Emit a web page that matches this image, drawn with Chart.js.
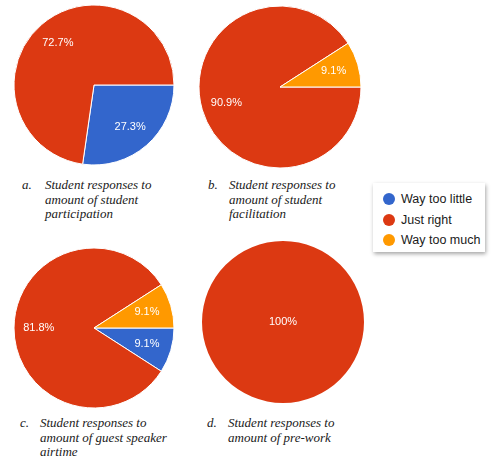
<!DOCTYPE html>
<html>
<head>
<meta charset="utf-8">
<script src="https://cdn.jsdelivr.net/npm/chart.js@4"></script>
<style>
  body { margin: 0; background: #fff; width: 491px; height: 465px; position: relative; overflow: hidden; }
  canvas { position: absolute; }
  .caption { position: absolute; font: italic 13px/14.5px "Liberation Serif", "Times New Roman", serif; color: #1a1a1a; }
  .caption .tag { position: absolute; left: 0; top: 0; }
  .legend { position: absolute; left: 373px; top: 183px; width: 112px; height: 69px; background: #fff;
            box-shadow: 1px 2px 4px rgba(0,0,0,0.35); box-sizing: border-box; padding-top: 6px;
            font: 12.5px "Liberation Sans", Arial, sans-serif; color: #1a1a1a; }
  .legend .row { height: 20.5px; display: flex; align-items: center; padding-left: 10px; }
  .legend .dot { width: 12px; height: 12px; border-radius: 50%; margin-right: 6px; }
</style>
</head>
<body>

<canvas id="pieA" width="170" height="170" style="left:9px;top:0px"></canvas>
<canvas id="pieB" width="170" height="170" style="left:195px;top:2px"></canvas>
<canvas id="pieC" width="170" height="170" style="left:9px;top:243px"></canvas>
<canvas id="pieD" width="170" height="170" style="left:198px;top:237px"></canvas>
<div class="legend" id="legend"></div>

<script>
// Data
const categories = ["Way too little", "Just right", "Way too much"];
const colors = ["#3366cc", "#dc3912", "#ff9900"];

const participation = [3, 8, 0];
const facilitation = [0, 10, 1];
const guestSpeaker = [1, 9, 1];
const preWork = [0, 11, 0];

const captionTags = ["a.", "b.", "c.", "d."];
const captionLines = [
  ["Student responses to", "amount of student", "participation"],
  ["Student responses to", "amount of student", "facilitation"],
  ["Student responses to", "amount of guest speaker", "airtime"],
  ["Student responses to", "amount of pre-work"]
];

// Layout
const pies = [
  { id: "pieA", data: participation, radius: 80, caption: { left: 22, top: 178, indent: 23 } },
  { id: "pieB", data: facilitation, radius: 81, caption: { left: 208, top: 178, indent: 21 } },
  { id: "pieC", data: guestSpeaker, radius: 80, caption: { left: 20, top: 416, indent: 20 } },
  { id: "pieD", data: preWork, radius: 81, caption: { left: 207, top: 416, indent: 21 } }
];

function formatPct(v, total) {
  return (v / total * 100).toFixed(1).replace(/\.0$/, "") + "%";
}

// white percent labels inside the slices
const sliceLabels = {
  id: "sliceLabels",
  afterDatasetsDraw(chart) {
    const ctx = chart.ctx;
    const data = chart.data.datasets[0].data;
    const total = data.reduce((s, v) => s + v, 0);
    ctx.save();
    ctx.fillStyle = "#fff";
    ctx.font = '11px "Liberation Sans", Arial, sans-serif';
    ctx.textAlign = "center";
    ctx.textBaseline = "middle";
    chart.getDatasetMeta(0).data.forEach((arc, i) => {
      if (!data[i]) return;
      const p = arc.getProps(["x", "y", "startAngle", "endAngle", "outerRadius"], true);
      const mid = (p.startAngle + p.endAngle) / 2;
      const d = data[i] === total ? 0 : p.outerRadius * 0.69;
      ctx.fillText(formatPct(data[i], total), p.x + Math.cos(mid) * d, p.y + Math.sin(mid) * d);
    });
    ctx.restore();
  }
};

pies.forEach((p, n) => {
  const total = p.data.reduce((s, v) => s + v, 0);
  new Chart(document.getElementById(p.id), {
    type: "pie",
    data: {
      labels: categories,
      datasets: [{
        data: p.data,
        backgroundColor: colors,
        borderColor: "#fff",
        borderWidth: c => (c.raw > 0 && c.raw < total) ? 1 : 0
      }]
    },
    options: {
      responsive: false,
      animation: false,
      devicePixelRatio: 1,
      rotation: 90,
      radius: p.radius,
      layout: { padding: 0 },
      plugins: { legend: { display: false }, tooltip: { enabled: false } }
    },
    plugins: [sliceLabels]
  });

  // caption
  const cap = document.createElement("div");
  cap.className = "caption";
  cap.style.left = p.caption.left + "px";
  cap.style.top = p.caption.top + "px";
  cap.style.paddingLeft = p.caption.indent + "px";
  cap.innerHTML = '<span class="tag">' + captionTags[n] + "</span>" + captionLines[n].join("<br>");
  document.body.appendChild(cap);
});

// Legend
const legend = document.getElementById("legend");
categories.forEach((c, i) => {
  const row = document.createElement("div");
  row.className = "row";
  row.innerHTML = '<span class="dot" style="background:' + colors[i] + '"></span>' + c;
  legend.appendChild(row);
});
</script>
</body>
</html>
